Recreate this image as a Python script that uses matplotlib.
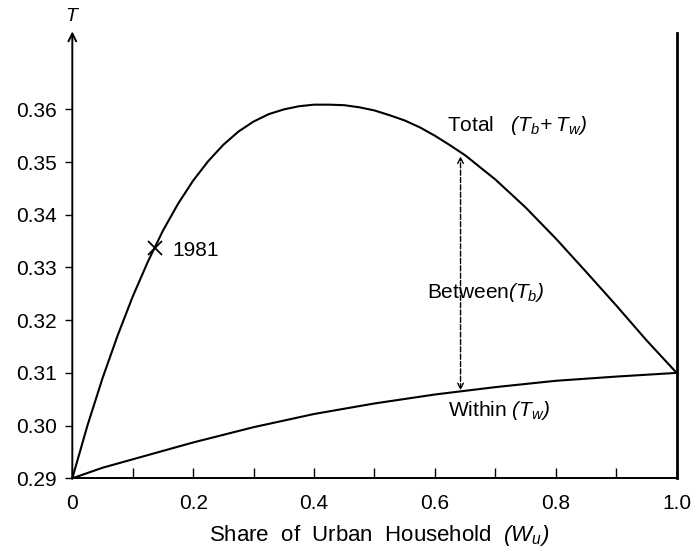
import matplotlib
matplotlib.use("Agg")
import matplotlib.pyplot as plt
from matplotlib.ticker import MultipleLocator

plt.rcParams['font.family'] = ['Liberation Sans', 'DejaVu Sans']
plt.rcParams['mathtext.fontset'] = 'custom'
# all maths in this chart is italic, parentheses included
plt.rcParams['mathtext.rm'] = 'Liberation Sans:italic'
plt.rcParams['mathtext.it'] = 'Liberation Sans:italic'

# Total inequality (T_b + T_w)
w_total = [0.0, 0.025, 0.05, 0.075, 0.10, 0.125, 0.15, 0.175, 0.20, 0.225,
           0.25, 0.275, 0.30, 0.325, 0.35, 0.375, 0.40, 0.425, 0.45, 0.475,
           0.50, 0.525, 0.55, 0.575, 0.60, 0.625, 0.65, 0.70, 0.75, 0.80,
           0.85, 0.90, 0.95, 1.0]
t_total = [0.2900, 0.3000, 0.3090, 0.3171, 0.3245, 0.3311, 0.3370, 0.3421, 0.3465, 0.3502,
           0.3533, 0.3558, 0.3577, 0.3591, 0.3600, 0.3606, 0.3609, 0.3609, 0.3608, 0.3604,
           0.3598, 0.3589, 0.3579, 0.3566, 0.3550, 0.3532, 0.3513, 0.3467, 0.3414, 0.3355,
           0.3292, 0.3228, 0.3162, 0.3100]

# Within component (T_w)
w_within = [0.0, 0.05, 0.1, 0.2, 0.3, 0.4, 0.5, 0.6, 0.7, 0.8, 0.9, 1.0]
t_within = [0.2900, 0.2920, 0.2936, 0.2968, 0.2997, 0.3022, 0.3042, 0.3059, 0.3073, 0.3085, 0.3093, 0.3100]

# 1981 observation on the total curve
w_1981 = 0.137
t_1981 = 0.3337

# position of the between arrow
w_arrow = 0.6424
t_arrow_top = 0.3511
t_arrow_bot = 0.3067

fs = 15

fig = plt.figure(figsize=(6.96, 5.49), dpi=100)
ax = fig.add_axes([0.1039, 0.1288, 0.8683, 0.8111])
ax.set_xlim(0, 1.0)
ax.set_ylim(0.29, 0.3745)

ax.plot(w_total, t_total, color='black', lw=1.5, clip_on=False)
ax.plot(w_within, t_within, color='black', lw=1.5, clip_on=False)
ax.plot([w_1981], [t_1981], marker='x', ms=10, mew=1.3, color='black', ls='none')

# dashed double arrow for the between part
ax.annotate('', xy=(w_arrow, t_arrow_top), xytext=(w_arrow, t_arrow_bot),
            arrowprops=dict(arrowstyle='<->', ls='--', lw=1.0, color='black',
                            shrinkA=0, shrinkB=0, mutation_scale=10))

# y axis as an arrow
ax.annotate('', xy=(0, 0.3748), xytext=(0, 0.29), annotation_clip=False,
            arrowprops=dict(arrowstyle='->', lw=1.4, color='black',
                            shrinkA=0, shrinkB=0, mutation_scale=14))

ax.spines['top'].set_visible(False)
ax.spines['left'].set_visible(False)
ax.spines['right'].set_linewidth(2.0)
ax.spines['bottom'].set_linewidth(1.4)

ax.xaxis.set_minor_locator(MultipleLocator(0.1))
ax.set_xticks([0, 0.2, 0.4, 0.6, 0.8, 1.0])
ax.set_xticklabels(['0', '0.2', '0.4', '0.6', '0.8', '1.0'])
ax.tick_params(axis='x', which='both', direction='in', length=7, width=1.0,
               labelsize=fs, pad=11)
ax.set_yticks([0.29, 0.30, 0.31, 0.32, 0.33, 0.34, 0.35, 0.36])
ax.set_yticklabels(['0.29', '0.30', '0.31', '0.32', '0.33', '0.34', '0.35', '0.36'])
ax.tick_params(axis='y', which='both', direction='out', length=5, width=1.0,
               labelsize=fs, pad=6, right=False)

ax.text(0, 0.3777, '$T$', ha='center', va='center', fontsize=fs - 1)
ax.text(0.165, 0.3333, '1981', ha='left', va='center', fontsize=fs)
ax.text(0.62, 0.3570, r'Total   $(T_b\!+T_w)$', ha='left', va='center', fontsize=fs)
ax.text(0.587, 0.3252, r'Between$(T_b)$', ha='left', va='center', fontsize=fs)
ax.text(0.6217, 0.3028, r'Within $(T_w)$', ha='left', va='center', fontsize=fs)

fig.text(0.545, 0.024, r'Share  of  Urban  Household  $(W_u)$', ha='center', va='center',
         fontsize=fs + 1)

fig.savefig('out.png', dpi=100)
